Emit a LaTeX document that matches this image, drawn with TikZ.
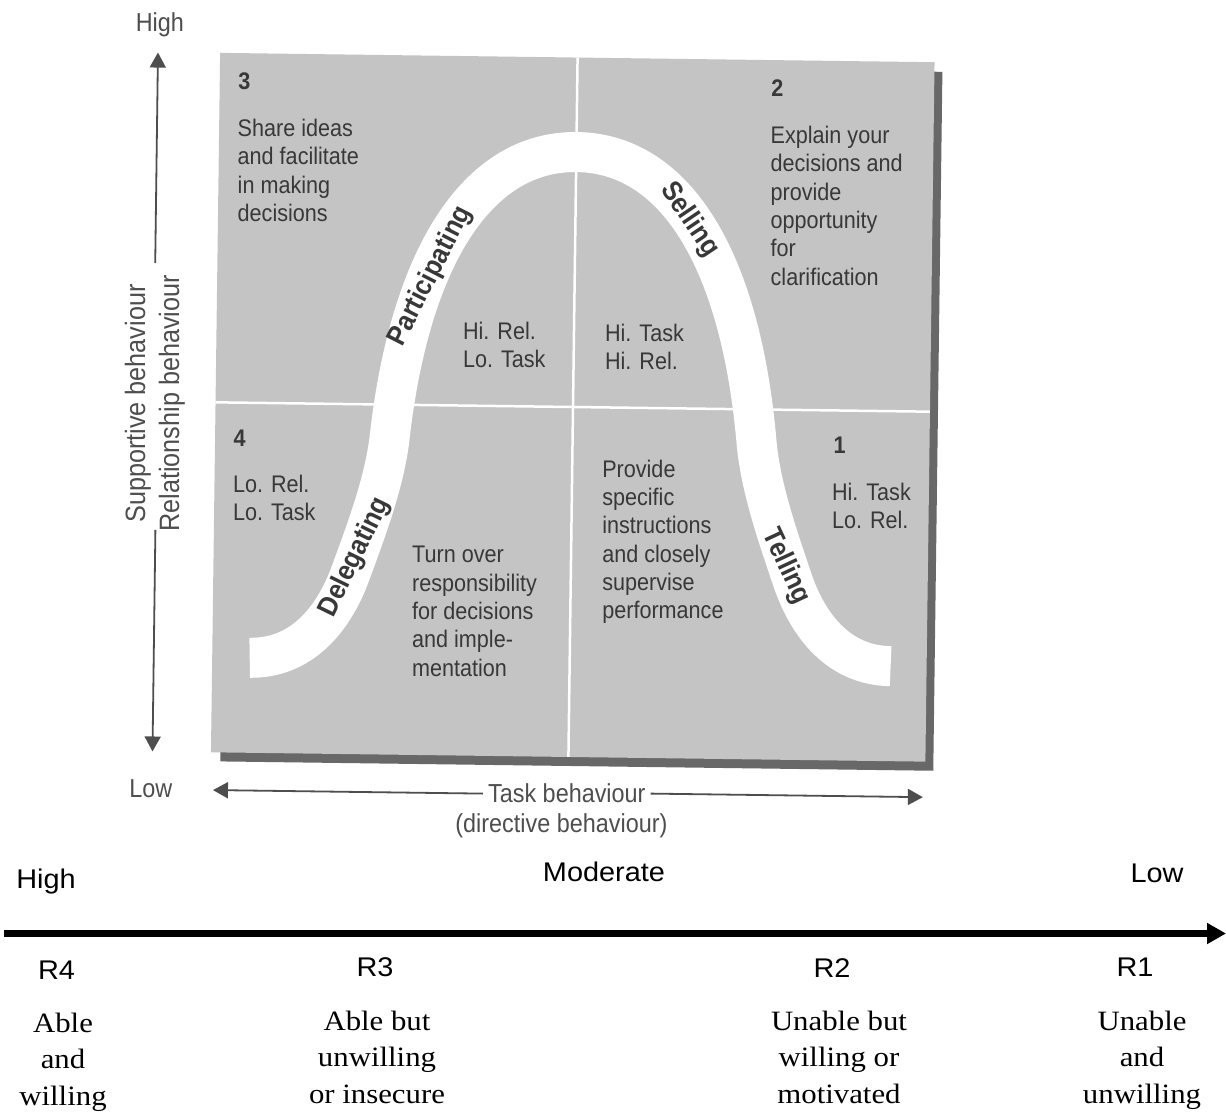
\documentclass[tikz,border=0pt]{standalone}
\usepackage{fontspec}
\usetikzlibrary{arrows.meta}

% condensed sans for the chart, plain faces for the readiness scale
\newfontfamily\chartsans[FakeStretch=0.9]{Liberation Sans}
\newfontfamily\widesans[FakeStretch=1.07]{Liberation Sans}
\newfontfamily\wideserif[FakeStretch=1.1]{Liberation Serif}

\definecolor{quadgray}{RGB}{196,196,196}
\definecolor{shadegray}{RGB}{104,104,104}
\definecolor{inkgray}{RGB}{56,56,56}
\definecolor{axisgray}{RGB}{78,78,78}

\newcommand\quadfont{\chartsans\fontsize{24}{28.3}\selectfont}
\newcommand\curvefont{\chartsans\bfseries\fontsize{28}{32}\selectfont}
\newcommand\axisfont{\chartsans\fontsize{26}{30}\selectfont}
\newcommand\sideaxisfont{\chartsans\fontsize{28}{34}\selectfont}
\newcommand\levelfont{\widesans\fontsize{27}{32}\selectfont}
\newcommand\readyfont{\wideserif\fontsize{28}{36.5}\selectfont}
\newcommand\txtstack[2]{\begin{tabular}[t]{@{}#1@{}}#2\end{tabular}}

\tikzset{
  quadtext/.style={anchor=base west, inner sep=0pt, text=inkgray, font=\quadfont},
  quadnum/.style={anchor=base west, inner sep=0pt, text=inkgray, font=\quadfont\bfseries},
  axislabel/.style={anchor=base, inner sep=0pt, text=axisgray, font=\axisfont},
  axisarrow/.style={draw=axisgray, line width=1.8pt, -{Triangle[length=15pt,width=16pt]}},
  curvelabel/.style={inner sep=0pt, text=inkgray, font=\curvefont},
  levellabel/.style={anchor=base, inner sep=0pt, font=\levelfont},
  readiness/.style={anchor=base, inner sep=0pt, font=\readyfont},
}

\begin{document}
\begin{tikzpicture}[x=1pt,y=-1pt]
\useasboundingbox (0,0) rectangle (1226,1112);
\fill[white] (0,0) rectangle (1226,1112);

% the leadership-style grid, set at a slight tilt
\begin{scope}[rotate around={-0.75:(572.75,407.25)}]
  \fill[shadegray] (225,67) rectangle (938,766);
  \fill[quadgray] (215.5,57.5) rectangle (930,757);
  \draw[white, line width=2.5pt] (573,57.5) -- (573,757);
  \draw[white, line width=2.5pt] (215.5,407) -- (930,407);

  % bell-shaped band of styles
  \draw[white, line width=40pt]
    (253,662) .. controls (315,662) and (342,606) .. (352,578)
              .. controls (366.9,535.7) and (385.5,485) .. (390,440)
              .. controls (408,260) and (473.5,152) .. (573.5,152)
              .. controls (673.5,152) and (739,260) .. (757,440)
              .. controls (761.5,485) and (780.1,535.7) .. (795,578)
              .. controls (805,606) and (832,662) .. (894,662);

  \node[curvelabel, rotate=64] (delegating) at (357,560) {Delegating};
  \node[curvelabel, rotate=63] (participating) at (429,278) {Participating};
  \node[curvelabel, rotate=-56] (selling) at (687,218) {Selling};
  \node[curvelabel, rotate=-65] (telling) at (788,564) {Telling};

  % quadrant 3
  \node[quadnum] (n3) at (234,94) {3};
  \node[quadtext] (q3) at (234,141) {\txtstack{l}{Share ideas\\and facilitate\\in making\\decisions}};
  \node[quadtext] (q3b) at (462,341) {\txtstack{l}{Hi. Rel.\\Lo. Task}};
  % quadrant 2
  \node[quadnum] (n2) at (767,94) {2};
  \node[quadtext] (q2) at (767,141) {\txtstack{l}{Explain your\\decisions and\\provide\\opportunity\\for\\clarification}};
  \node[quadtext] (q2b) at (604,341) {\txtstack{l}{Hi. Task\\Hi. Rel.}};
  % quadrant 4
  \node[quadnum] (n4) at (234,451) {4};
  \node[quadtext] (q4b) at (234,497) {\txtstack{l}{Lo. Rel.\\Lo. Task}};
  \node[quadtext] (q4) at (414,565) {\txtstack{l}{Turn over\\responsibility\\for decisions\\and imple-\\mentation}};
  % quadrant 1
  \node[quadtext] (q1) at (603,477) {\txtstack{l}{Provide\\specific\\instructions\\and closely\\supervise\\performance}};
  \node[quadnum] (n1) at (834,450) {1};
  \node[quadtext] (q1b) at (833,497) {\txtstack{l}{Hi. Task\\Lo. Rel.}};

  % vertical axis
  \node[axislabel] (ytop) at (155,37) {High};
  \node[axislabel] (ybot) at (156,802.5) {Low};
  \node[anchor=base, inner xsep=12pt, inner ysep=0pt, text=axisgray,
        font=\sideaxisfont, rotate=90] (ylab) at (145,409)
        {\txtstack{c}{Supportive behaviour\\Relationship behaviour}};
  \coordinate (ytip) at (156,58);
  \coordinate (ybase) at (156,757);
  \draw[axisarrow] (ylab.east) -- (ylab.east |- ytip);
  \draw[axisarrow] ([yshift=14pt]ylab.west) -- (ylab.west |- ybase);

  % horizontal axis
  \node[axislabel, inner xsep=5pt] (task) at (572,803) {Task behaviour};
  \node[axislabel] (directive) at (567,833) {(directive behaviour)};
  \coordinate (xlo) at (218,794);
  \coordinate (xhi) at (928,794);
  \draw[axisarrow] (task.west) -- (task.west -| xlo);
  \draw[axisarrow] (task.east) -- (task.east -| xhi);
\end{scope}

% readiness scale
\coordinate (scaleL) at (4,933.5);
\coordinate (scaleR) at (1226,933.5);
\draw[line width=7pt, -{Triangle[length=19pt,width=20pt]}] (scaleL) -- (scaleR);

\node[levellabel] (high) at (46,888) {High};
\node[levellabel] (moderate) at (604,881) {Moderate};
\node[levellabel] (low) at (1157,882) {Low};

\node[levellabel] (r4) at (56.5,979) {R4};
\node[levellabel] (r3) at (375,976) {R3};
\node[levellabel] (r2) at (832,977) {R2};
\node[levellabel] (r1) at (1135,976) {R1};

\node[readiness] (d4) at (63,1032) {\txtstack{c}{Able\\and\\willing}};
\node[readiness] (d3) at (377,1030) {\txtstack{c}{Able but\\unwilling\\or insecure}};
\node[readiness] (d2) at (839,1030) {\txtstack{c}{Unable but\\willing or\\motivated}};
\node[readiness] (d1) at (1142,1030) {\txtstack{c}{Unable\\and\\unwilling}};
\end{tikzpicture}
\end{document}
